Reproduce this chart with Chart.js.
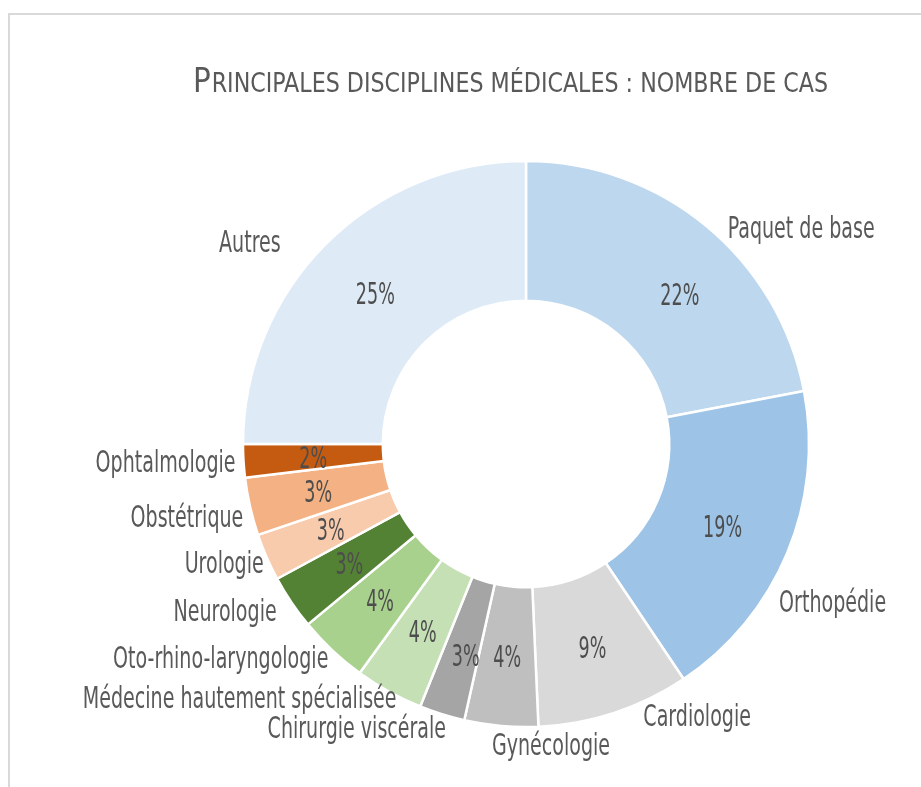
<!DOCTYPE html>
<html>
<head>
<meta charset="utf-8">
<script src="https://cdn.jsdelivr.net/npm/chart.js@4.4.1/dist/chart.umd.min.js"></script>
<style>
  html, body { margin: 0; padding: 0; background: #fff; }
  #wrap { position: relative; width: 921px; height: 787px; overflow: hidden; }
  #frame { position: absolute; left: 8px; top: 13px; width: 1000px; height: 1000px;
           border-top: 2px solid #d9d9d9; border-left: 2px solid #d9d9d9; }
  canvas { position: absolute; left: 0; top: 0; }
</style>
</head>
<body>
<div id="wrap">
  <div id="frame"></div>
  <canvas id="myChart" width="921" height="787"></canvas>
</div>
<script>
// data (share of cases, %)
const categories = ['Paquet de base', 'Orthopédie', 'Cardiologie', 'Gynécologie', 'Chirurgie viscérale',
  'Médecine hautement spécialisée', 'Oto-rhino-laryngologie', 'Neurologie', 'Urologie',
  'Obstétrique', 'Ophtalmologie', 'Autres'];
const shares = [22.0, 18.6, 8.7, 4.2, 2.6, 3.9, 4.0, 3.1, 2.7, 3.3, 1.9, 25.0];
const sliceColors = ['#bdd7ee', '#9dc3e6', '#d9d9d9', '#bfbfbf', '#a5a5a5', '#c5e0b4',
  '#a9d18e', '#548235', '#f8cbad', '#f4b183', '#c55a11', '#deebf7'];
const titleText = 'Principales disciplines médicales : nombre de cas';

const FONT = '"Liberation Sans Narrow", "DejaVu Sans Condensed", "Roboto", sans-serif';
const TEXT_COLOR = '#595959';

// small tweaks so labels sit where they are in the original
const labelNudge = {
  'Paquet de base': [13, 11], 'Orthopédie': [-20, 43], 'Cardiologie': [25, -10],
  'Gynécologie': [51, 5], 'Chirurgie viscérale': [8, 0], 'Médecine hautement spécialisée': [14, -6],
  'Oto-rhino-laryngologie': [5, -3], 'Neurologie': [-4, 0], 'Urologie': [9, -1],
  'Obstétrique': [6, 6], 'Ophtalmologie': [5, -1], 'Autres': [-36, 6]
};
const pctNudge = { 'Paquet de base': [18, 14], 'Chirurgie viscérale': [3, 7] };

function squeeze(ctx, size, sample, targetWidth) {
  ctx.font = size + 'px ' + FONT;
  return targetWidth / ctx.measureText(sample).width;
}

function drawText(ctx, text, x, capMid, align, size, sx, color) {
  ctx.save();
  ctx.font = size + 'px ' + FONT;
  ctx.fillStyle = color;
  const w = ctx.measureText(text).width * sx;
  const left = align === 'left' ? x : align === 'right' ? x - w : x - w / 2;
  ctx.translate(left, capMid + size * 0.36);
  ctx.scale(sx, 1);
  ctx.textAlign = 'left';
  ctx.textBaseline = 'alphabetic';
  ctx.fillText(text, 0, 0);
  ctx.restore();
}

const labelPlugin = {
  id: 'labels',
  afterDatasetsDraw(chart) {
    const ctx = chart.ctx;
    const meta = chart.getDatasetMeta(0);
    const data = chart.data.datasets[0].data;
    const total = data.reduce((a, b) => a + b, 0);
    const labSize = 31, pctSize = 31;
    const labSx = squeeze(ctx, labSize, 'Paquet de base', 147);
    const pctSx = squeeze(ctx, pctSize, '22%', 39);

    meta.data.forEach((arc, i) => {
      const name = chart.data.labels[i];
      const p = arc.getProps(['x', 'y', 'startAngle', 'endAngle', 'outerRadius']);
      // percentage inside the ring
      const c = arc.getCenterPoint();
      const pn = pctNudge[name] || [0, 0];
      drawText(ctx, Math.round(data[i] / total * 100) + '%', c.x + pn[0], c.y + pn[1], 'center', pctSize, pctSx, '#4d4d4d');

      // category name outside
      const mid = (p.startAngle + p.endAngle) / 2;
      const r = p.outerRadius + 13;
      const cx = Math.cos(mid), cy = Math.sin(mid);
      const ax = p.x + cx * r, ay = p.y + cy * r;
      const align = cx > 0.1 ? 'left' : cx < -0.1 ? 'right' : 'center';
      const n = labelNudge[name] || [0, 0];
      drawText(ctx, name, ax + n[0], ay + n[1], align, labSize, labSx, TEXT_COLOR);
    });

    // title in small caps
    const big = 34.5, small = 26;
    const first = titleText.charAt(0).toUpperCase();
    const rest = titleText.slice(1).toUpperCase();
    ctx.save();
    ctx.font = big + 'px ' + FONT;
    const w1 = ctx.measureText(first).width;
    ctx.font = small + 'px ' + FONT;
    const w2 = ctx.measureText(rest).width;
    const sx = 635 / (w1 + w2 + 1);
    ctx.translate(193, 92);
    ctx.scale(sx, 1);
    ctx.fillStyle = TEXT_COLOR;
    ctx.textBaseline = 'alphabetic';
    ctx.font = big + 'px ' + FONT;
    ctx.fillText(first, 0, 0);
    ctx.font = small + 'px ' + FONT;
    ctx.fillText(rest, w1 + 1, 0);
    ctx.restore();
  }
};

new Chart(document.getElementById('myChart').getContext('2d'), {
  type: 'doughnut',
  data: {
    labels: categories,
    datasets: [{
      data: shares,
      backgroundColor: sliceColors,
      borderColor: '#ffffff',
      borderWidth: 2.5
    }]
  },
  options: {
    responsive: false,
    animation: false,
    radius: 283,
    cutout: '50.6%',
    layout: { padding: { left: 240, right: 109, top: 150, bottom: 49 } },
    plugins: {
      legend: { display: false },
      tooltip: { enabled: false },
      title: { display: false }
    }
  },
  plugins: [labelPlugin]
});
</script>
</body>
</html>
